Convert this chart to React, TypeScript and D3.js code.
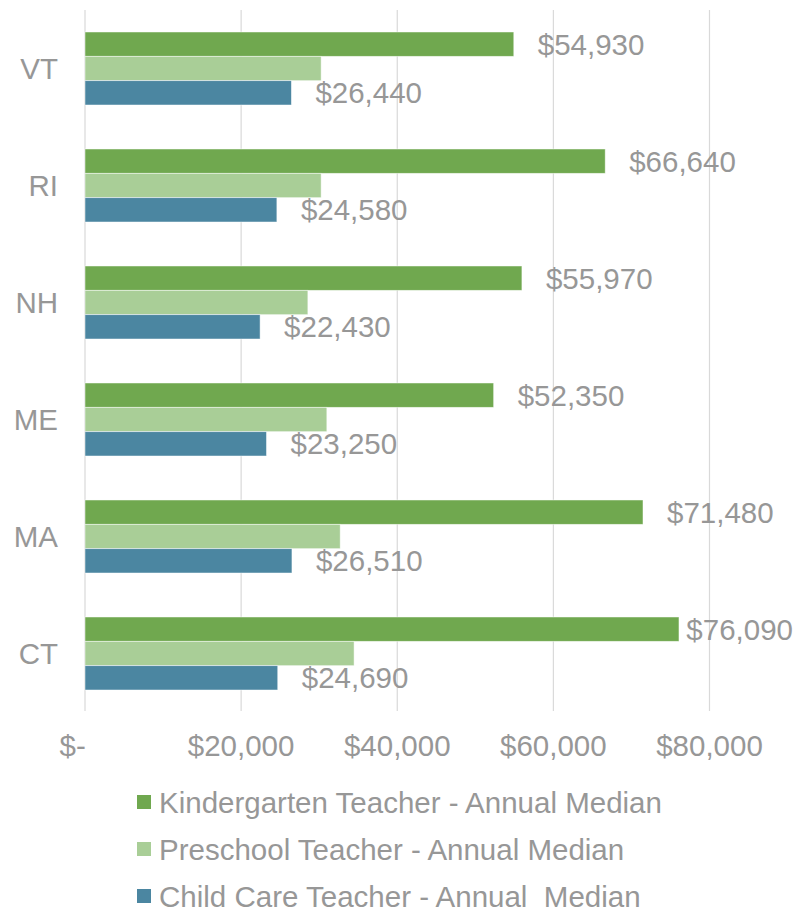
import React from "react";
import * as d3 from "d3";

const states = ["VT", "RI", "NH", "ME", "MA", "CT"];
const kindergarten = [54930, 66640, 55970, 52350, 71480, 76090];
const preschool = [30250, 30250, 28550, 30980, 32690, 34470];
const childCare = [26440, 24580, 22430, 23250, 26510, 24690];
const seriesNames = [
  "Kindergarten Teacher - Annual Median",
  "Preschool Teacher - Annual Median",
  "Child Care Teacher - Annual  Median",
];
const seriesColors = ["#70A84F", "#A9CE97", "#4B86A1"];
const xTicks = [0, 20000, 40000, 60000, 80000];

const W = 807;
const H = 912;
const FONT = "'Liberation Sans', Arial, sans-serif";
const FS = 29.5;
const TXT = "#979797";

function measure(text: string): number {
  const c = document.createElement("canvas").getContext("2d");
  if (!c) return text.length * FS * 0.55;
  c.font = `${FS}px ${FONT}`;
  return c.measureText(text).width;
}

const money = (v: number) => "$" + d3.format(",")(v);
const tickFmt = (v: number) => (v === 0 ? "$-\u00A0\u00A0\u00A0" : "$" + d3.format(",")(v));

export default function App() {
  const x = d3.scaleLinear().domain([0, 80000]).range([85, 709.5]);
  const y = d3
    .scaleBand<string>()
    .domain(states)
    .range([10, 712])
    .paddingInner(0.376)
    .paddingOuter(0.188);
  const sub = d3.scaleBand<number>().domain([0, 1, 2]).range([0, y.bandwidth()]);
  const series = [kindergarten, preschool, childCare];
  const labelGap = 24;
  const rightLimit = W - 14;

  return (
    <svg width={W} height={H} style={{ display: "block", position: "absolute", left: 0, top: 0 }} fontFamily={FONT}>
      <rect x={0} y={0} width={W} height={H} fill="#fff" />
      {xTicks.map((t) => (
        <line key={t} x1={x(t)} x2={x(t)} y1={10} y2={711} stroke="#D9D9D9" strokeWidth={1.2} />
      ))}
      {states.map((s, i) => (
        <g key={s}>
          {series.map((arr, k) => (
            <rect
              key={k}
              x={x(0)}
              y={(y(s) as number) + (sub(k) as number)}
              width={x(arr[i]) - x(0)}
              height={sub.bandwidth()}
              fill={seriesColors[k]}
              stroke="#fff"
              strokeOpacity={0.6}
              strokeWidth={0.8}
            />
          ))}
          <text x={58} y={(y(s) as number) + y.bandwidth() / 2} dy="0.36em" textAnchor="end" fontSize={FS} fill={TXT}>
            {s}
          </text>
        </g>
      ))}
      {states.map((s, i) => {
        const lab = money(kindergarten[i]);
        const w = measure(lab);
        const lx = Math.min(x(kindergarten[i]) + labelGap, rightLimit - w);
        return (
          <text key={"k" + s} x={lx} y={(y(s) as number) + (sub(0) as number) + sub.bandwidth() / 2} dy="0.36em" fontSize={FS} fill={TXT}>
            {lab}
          </text>
        );
      })}
      {states.map((s, i) => {
        const lab = money(childCare[i]);
        return (
          <text key={"c" + s} x={x(childCare[i]) + labelGap} y={(y(s) as number) + (sub(2) as number) + sub.bandwidth() / 2} dy="0.36em" fontSize={FS} fill={TXT}>
            {lab}
          </text>
        );
      })}
      {xTicks.map((t) => (
        <text key={"t" + t} x={x(t)} y={745} dy="0.36em" textAnchor="middle" fontSize={FS} fill={TXT} style={{ whiteSpace: "pre" }}>
          {tickFmt(t)}
        </text>
      ))}
      {seriesNames.map((n, k) => (
        <g key={n} transform={`translate(137, ${802 + k * 47})`}>
          <rect x={0} y={-7} width={14} height={14} fill={seriesColors[k]} />
          <text x={22} y={0} dy="0.36em" fontSize={FS} fill={TXT} style={{ whiteSpace: "pre" }}>
            {n}
          </text>
        </g>
      ))}
    </svg>
  );
}
